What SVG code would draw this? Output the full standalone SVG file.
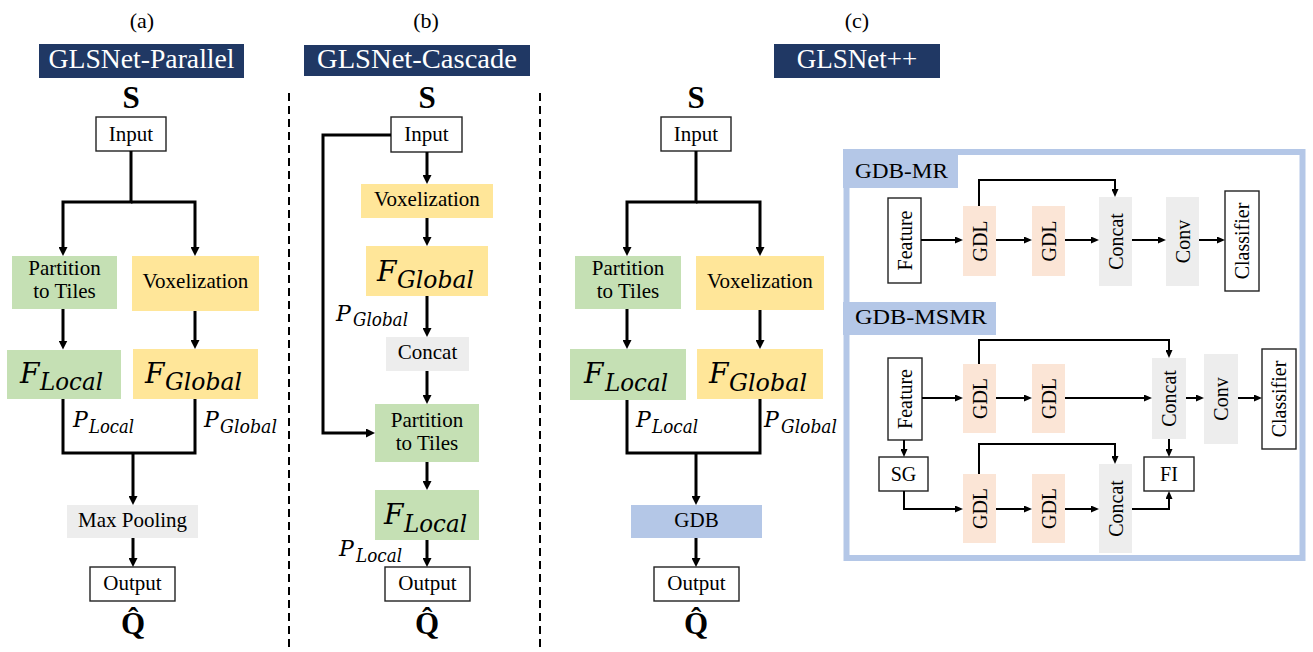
<svg xmlns="http://www.w3.org/2000/svg" width="1313" height="652" viewBox="0 0 1313 652">
<style>
.t,.hd,.lb,.gl,.bs,.r{font-family:"Liberation Serif","Times New Roman",Times,"DejaVu Serif",serif}
.t{font-size:21px;text-anchor:middle;fill:#000}
.hd{font-size:27px;text-anchor:middle;fill:#fff}
.lb{font-size:22px;text-anchor:middle;fill:#000}
.gl{font-size:22px;fill:#000}
.bs{font-size:31px;font-weight:bold;text-anchor:middle;fill:#000}
.m{font-family:"DejaVu Serif",serif;font-style:italic;fill:#000}
.r{font-size:20px;text-anchor:middle;fill:#000}
.wb{fill:#fff;stroke:#222;stroke-width:1.4}
.gr{fill:#c5e0b4}.ye{fill:#ffe699}.ga{fill:#ededed}.bl{fill:#b4c7e7}.pe{fill:#fbe5d6}
.nav{fill:#203864}
.c{fill:none;stroke:#000;stroke-width:3}
.cs{fill:none;stroke:#000;stroke-width:2}
.dash{fill:none;stroke:#000;stroke-width:2;stroke-dasharray:8 5}
</style>
<defs>
<marker id="ah" markerUnits="userSpaceOnUse" viewBox="0 0 9 9" markerWidth="9" markerHeight="9" refX="4.5" refY="4.5" orient="auto"><path d="M0,0 L9,4.5 L0,9 z" fill="#000"/></marker>
<marker id="as" markerUnits="userSpaceOnUse" viewBox="0 0 8 7" markerWidth="8" markerHeight="7" refX="4" refY="3.5" orient="auto"><path d="M0,0 L8,3.5 L0,7 z" fill="#000"/></marker>
</defs>
<rect width="1313" height="652" fill="#fff"/>

<g id="separators">
<line class="dash" x1="289" y1="93" x2="289" y2="652"/>
<line class="dash" x1="540" y1="93" x2="540" y2="652"/>
</g>

<!-- ===== Panel (a) ===== -->
<g id="a-title"><text class="lb" x="142" y="28">(a)</text></g>
<g id="a-header"><rect class="nav" x="39" y="44" width="205" height="34"/><text class="hd" x="141.5" y="68" textLength="186" lengthAdjust="spacingAndGlyphs">GLSNet-Parallel</text></g>
<g id="a-S"><text class="bs" x="131" y="108">S</text></g>
<g id="a-input"><rect class="wb" x="96" y="117" width="70" height="34"/><text class="t" x="131" y="141">Input</text></g>
<g id="a-partition"><rect class="gr" x="12" y="256" width="105" height="53"/><text class="t" x="64.5" y="275">Partition</text><text class="t" x="64.5" y="298">to Tiles</text></g>
<g id="a-voxel"><rect class="ye" x="132" y="256" width="127" height="55"/><text class="t" x="195.5" y="288">Voxelization</text></g>
<g id="a-flocal"><rect class="gr" x="7" y="350" width="114" height="49"/><text class="m" x="20" y="383" font-size="28">F</text><text class="m" x="40" y="390" font-size="24" textLength="63" lengthAdjust="spacingAndGlyphs">Local</text></g>
<g id="a-fglobal"><rect class="ye" x="133" y="349" width="125" height="50"/><text class="m" x="145" y="383" font-size="28">F</text><text class="m" x="165" y="390" font-size="24" textLength="77" lengthAdjust="spacingAndGlyphs">Global</text></g>
<g id="a-plocal"><text class="m" x="73" y="427" font-size="22">P</text><text class="m" x="89" y="433" font-size="18" textLength="45" lengthAdjust="spacingAndGlyphs">Local</text></g>
<g id="a-pglobal"><text class="m" x="204" y="427" font-size="22">P</text><text class="m" x="220" y="433" font-size="18" textLength="57" lengthAdjust="spacingAndGlyphs">Global</text></g>
<g id="a-maxpool"><rect class="ga" x="67" y="505" width="131" height="33"/><text class="t" x="132.5" y="527">Max Pooling</text></g>
<g id="a-output"><rect class="wb" x="90" y="567" width="85" height="34"/><text class="t" x="132.5" y="590">Output</text></g>
<g id="a-Q"><text class="bs" x="133" y="634">Q&#x302;</text></g>

<!-- ===== Panel (b) ===== -->
<g id="b-title"><text class="lb" x="426" y="28">(b)</text></g>
<g id="b-header"><rect class="nav" x="304" y="45" width="226" height="31"/><text class="hd" x="417" y="68" textLength="200" lengthAdjust="spacingAndGlyphs">GLSNet-Cascade</text></g>
<g id="b-S"><text class="bs" x="427" y="108">S</text></g>
<g id="b-input"><rect class="wb" x="391" y="117" width="71" height="35"/><text class="t" x="426.5" y="141">Input</text></g>
<g id="b-voxel"><rect class="ye" x="361" y="184" width="132" height="34"/><text class="t" x="427" y="206">Voxelization</text></g>
<g id="b-fglobal"><rect class="ye" x="366" y="246" width="122" height="50"/><text class="m" x="377" y="281" font-size="28">F</text><text class="m" x="397" y="288" font-size="24" textLength="77" lengthAdjust="spacingAndGlyphs">Global</text></g>
<g id="b-pglobal"><text class="m" x="336" y="321" font-size="22">P</text><text class="m" x="353" y="326" font-size="18" textLength="55" lengthAdjust="spacingAndGlyphs">Global</text></g>
<g id="b-concat"><rect class="ga" x="386" y="337" width="83" height="34"/><text class="t" x="427.5" y="359">Concat</text></g>
<g id="b-partition"><rect class="gr" x="375" y="404" width="104" height="58"/><text class="t" x="427" y="427">Partition</text><text class="t" x="427" y="450">to Tiles</text></g>
<g id="b-flocal"><rect class="gr" x="375" y="490" width="104" height="50"/><text class="m" x="384" y="524" font-size="28">F</text><text class="m" x="404" y="532" font-size="24" textLength="63" lengthAdjust="spacingAndGlyphs">Local</text></g>
<g id="b-plocal"><text class="m" x="339" y="556" font-size="22">P</text><text class="m" x="356" y="562" font-size="18" textLength="46" lengthAdjust="spacingAndGlyphs">Local</text></g>
<g id="b-output"><rect class="wb" x="385" y="567" width="85" height="34"/><text class="t" x="427.5" y="590">Output</text></g>
<g id="b-Q"><text class="bs" x="427" y="634">Q&#x302;</text></g>

<!-- ===== Panel (c) ===== -->
<g id="c-title"><text class="lb" x="857" y="28">(c)</text></g>
<g id="c-header"><rect class="nav" x="774" y="44" width="166" height="34"/><text class="hd" x="857" y="68">GLSNet++</text></g>
<g id="c-S"><text class="bs" x="696" y="108">S</text></g>
<g id="c-input"><rect class="wb" x="661" y="117" width="70" height="34"/><text class="t" x="696" y="141">Input</text></g>
<g id="c-partition"><rect class="gr" x="575" y="256" width="106" height="53"/><text class="t" x="628" y="275">Partition</text><text class="t" x="628" y="298">to Tiles</text></g>
<g id="c-voxel"><rect class="ye" x="696" y="256" width="128" height="54"/><text class="t" x="760" y="288">Voxelization</text></g>
<g id="c-flocal"><rect class="gr" x="570" y="349" width="116" height="51"/><text class="m" x="584" y="383" font-size="28">F</text><text class="m" x="605" y="391" font-size="24" textLength="63" lengthAdjust="spacingAndGlyphs">Local</text></g>
<g id="c-fglobal"><rect class="ye" x="697" y="349" width="126" height="50"/><text class="m" x="709" y="383" font-size="28">F</text><text class="m" x="729" y="391" font-size="24" textLength="78" lengthAdjust="spacingAndGlyphs">Global</text></g>
<g id="c-plocal"><text class="m" x="636" y="427" font-size="22">P</text><text class="m" x="652" y="433" font-size="18" textLength="46" lengthAdjust="spacingAndGlyphs">Local</text></g>
<g id="c-pglobal"><text class="m" x="764" y="427" font-size="22">P</text><text class="m" x="781" y="433" font-size="18" textLength="56" lengthAdjust="spacingAndGlyphs">Global</text></g>
<g id="c-gdb"><rect class="bl" x="631" y="505" width="131" height="33"/><text class="t" x="696.5" y="527">GDB</text></g>
<g id="c-output"><rect class="wb" x="654" y="567" width="85" height="34"/><text class="t" x="696.5" y="590">Output</text></g>
<g id="c-Q"><text class="bs" x="696" y="634">Q&#x302;</text></g>

<!-- ===== GDB detail ===== -->
<g id="gdb-frame"><rect x="846.5" y="152" width="456" height="406" fill="#fff" stroke="#b4c7e7" stroke-width="6"/></g>
<g id="mr-label"><rect class="bl" x="843" y="149" width="115" height="39"/><text class="gl" x="855" y="178" textLength="93" lengthAdjust="spacingAndGlyphs">GDB-MR</text></g>
<g id="mr-feature"><rect class="wb" x="888" y="198" width="33" height="85"/><text class="r" transform="translate(904.5,240.5) rotate(-90)" y="7">Feature</text></g>
<g id="mr-gdl1"><rect class="pe" x="963" y="206" width="33" height="70"/><text class="r" transform="translate(979.5,241) rotate(-90)" y="7">GDL</text></g>
<g id="mr-gdl2"><rect class="pe" x="1032" y="206" width="33" height="70"/><text class="r" transform="translate(1048.5,241) rotate(-90)" y="7">GDL</text></g>
<g id="mr-concat"><rect class="ga" x="1099" y="197" width="33" height="89"/><text class="r" transform="translate(1115.5,241.5) rotate(-90)" y="7">Concat</text></g>
<g id="mr-conv"><rect class="ga" x="1166" y="197" width="33" height="89"/><text class="r" transform="translate(1182.5,241.5) rotate(-90)" y="7">Conv</text></g>
<g id="mr-classifier"><rect class="wb" x="1225" y="191" width="34" height="100"/><text class="r" transform="translate(1242,241) rotate(-90)" y="7">Classifier</text></g>

<g id="msmr-label"><rect class="bl" x="843" y="302" width="153" height="33"/><text class="gl" x="855" y="324" textLength="132" lengthAdjust="spacingAndGlyphs">GDB-MSMR</text></g>
<g id="msmr-feature"><rect class="wb" x="888" y="358" width="34" height="82"/><text class="r" transform="translate(905,399) rotate(-90)" y="7">Feature</text></g>
<g id="msmr-gdl1"><rect class="pe" x="963" y="364" width="33" height="69"/><text class="r" transform="translate(979.5,398.5) rotate(-90)" y="7">GDL</text></g>
<g id="msmr-gdl2"><rect class="pe" x="1032" y="364" width="33" height="69"/><text class="r" transform="translate(1048.5,398.5) rotate(-90)" y="7">GDL</text></g>
<g id="msmr-concat1"><rect class="ga" x="1152" y="358" width="34" height="81"/><text class="r" transform="translate(1169,398.5) rotate(-90)" y="7">Concat</text></g>
<g id="msmr-conv"><rect class="ga" x="1204" y="354" width="34" height="90"/><text class="r" transform="translate(1221,399) rotate(-90)" y="7">Conv</text></g>
<g id="msmr-classifier"><rect class="wb" x="1262" y="349" width="34" height="100"/><text class="r" transform="translate(1279,399) rotate(-90)" y="7">Classifier</text></g>
<g id="msmr-sg"><rect class="wb" x="879" y="457" width="49" height="34"/><text class="r" x="903.5" y="481">SG</text></g>
<g id="msmr-gdl3"><rect class="pe" x="963" y="474" width="33" height="69"/><text class="r" transform="translate(979.5,508.5) rotate(-90)" y="7">GDL</text></g>
<g id="msmr-gdl4"><rect class="pe" x="1032" y="474" width="33" height="69"/><text class="r" transform="translate(1048.5,508.5) rotate(-90)" y="7">GDL</text></g>
<g id="msmr-concat2"><rect class="ga" x="1099" y="464" width="33" height="89"/><text class="r" transform="translate(1115.5,508.5) rotate(-90)" y="7">Concat</text></g>
<g id="msmr-fi"><rect class="wb" x="1144" y="457" width="50" height="34"/><text class="r" x="1169" y="481">FI</text></g>

<g id="connectors">
<path class="c" d="M131,151 V202 H63 V251.5" marker-end="url(#ah)"/>
<path class="c" d="M131,202 H195 V251.5" marker-end="url(#ah)"/>
<path class="c" d="M63,309 V345" marker-end="url(#ah)"/>
<path class="c" d="M195,311 V344.5" marker-end="url(#ah)"/>
<path class="c" d="M63,399 V453 H195 V399"/>
<path class="c" d="M133,453 V500.5" marker-end="url(#ah)"/>
<path class="c" d="M133,538 V562.5" marker-end="url(#ah)"/>
<path class="c" d="M427,152 V179.5" marker-end="url(#ah)"/>
<path class="c" d="M427,218 V241.5" marker-end="url(#ah)"/>
<path class="c" d="M427,296 V332.5" marker-end="url(#ah)"/>
<path class="c" d="M427,371 V399.5" marker-end="url(#ah)"/>
<path class="c" d="M391,135 H323 V433 H370.5" marker-end="url(#ah)"/>
<path class="c" d="M427,462 V485.5" marker-end="url(#ah)"/>
<path class="c" d="M427,540 V562.5" marker-end="url(#ah)"/>
<path class="c" d="M696,151 V202 H627 V251.5" marker-end="url(#ah)"/>
<path class="c" d="M696,202 H760 V251.5" marker-end="url(#ah)"/>
<path class="c" d="M627,309 V344.5" marker-end="url(#ah)"/>
<path class="c" d="M760,310 V344.5" marker-end="url(#ah)"/>
<path class="c" d="M627,400 V453 H760 V399"/>
<path class="c" d="M696,453 V500.5" marker-end="url(#ah)"/>
<path class="c" d="M696,538 V562.5" marker-end="url(#ah)"/>
<path class="cs" d="M921,240 H959" marker-end="url(#as)"/>
<path class="cs" d="M996,240 H1028" marker-end="url(#as)"/>
<path class="cs" d="M1065,240 H1095" marker-end="url(#as)"/>
<path class="cs" d="M1132,240 H1162" marker-end="url(#as)"/>
<path class="cs" d="M1199,240 H1221" marker-end="url(#as)"/>
<path class="cs" d="M979,206 V180 H1115 V193" marker-end="url(#as)"/>
<path class="cs" d="M922,398 H959" marker-end="url(#as)"/>
<path class="cs" d="M996,398 H1028" marker-end="url(#as)"/>
<path class="cs" d="M1065,398 H1148" marker-end="url(#as)"/>
<path class="cs" d="M1186,398 H1200" marker-end="url(#as)"/>
<path class="cs" d="M1238,398 H1258" marker-end="url(#as)"/>
<path class="cs" d="M979,364 V340 H1169 V354" marker-end="url(#as)"/>
<path class="cs" d="M904,440 V453" marker-end="url(#as)"/>
<path class="cs" d="M904,491 V509 H959" marker-end="url(#as)"/>
<path class="cs" d="M996,509 H1028" marker-end="url(#as)"/>
<path class="cs" d="M1065,509 H1095" marker-end="url(#as)"/>
<path class="cs" d="M979,474 V444 H1115 V460" marker-end="url(#as)"/>
<path class="cs" d="M1169,439 V453" marker-end="url(#as)"/>
<path class="cs" d="M1132,509 H1169 V495" marker-end="url(#as)"/>
</g>
</svg>
